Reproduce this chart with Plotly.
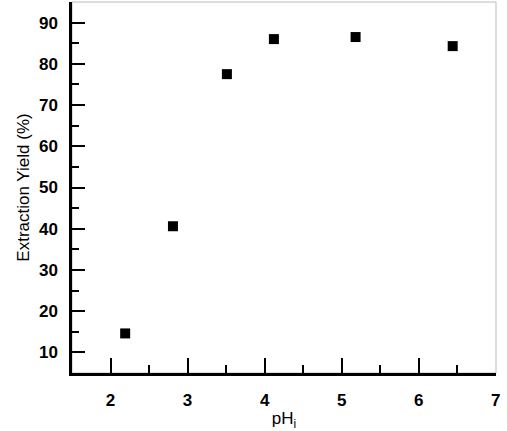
import plotly.graph_objects as go

ph_i = [2.19, 2.81, 3.51, 4.12, 5.18, 6.44]
extraction_yield = [14.6, 40.6, 77.5, 86.0, 86.5, 84.3]

x_ticks = [2, 3, 4, 5, 6, 7]
y_ticks = [10, 20, 30, 40, 50, 60, 70, 80, 90]

fig = go.Figure()
fig.add_trace(go.Scatter(
    x=ph_i,
    y=extraction_yield,
    mode="markers",
    marker=dict(symbol="square", size=10, color="black"),
    showlegend=False,
))

axis_font = dict(family="Liberation Sans, Arial, sans-serif", size=17, color="black")
tick_font = dict(family="Liberation Sans, Arial, sans-serif", size=17, color="black", weight="bold")

fig.update_layout(
    width=507,
    height=431,
    margin=dict(l=72, r=11, t=2, b=58),
    paper_bgcolor="white",
    plot_bgcolor="white",
    shapes=[dict(type="rect", xref="paper", yref="paper", x0=0, y0=0, x1=1, y1=1,
                 line=dict(color="#bbbbbb", width=1), layer="below")],
)
fig.update_xaxes(
    range=[1.5, 7.002],
    tickvals=x_ticks,
    ticks="inside",
    ticklen=15,
    tickwidth=2,
    tickcolor="black",
    minor=dict(ticks="inside", ticklen=8, tickwidth=2, tickcolor="black", dtick=0.5, tick0=1.5),
    showline=True,
    linewidth=2.5,
    linecolor="black",
    showgrid=False,
    zeroline=False,
    automargin=False,
    tickfont=tick_font,
    ticklabelstandoff=10,
    title=dict(text="pH<sub>i</sub>", font=axis_font, standoff=7),
)
fig.update_yaxes(
    range=[5, 95],
    tickvals=y_ticks,
    ticks="inside",
    ticklen=13,
    tickwidth=2,
    tickcolor="black",
    minor=dict(ticks="inside", ticklen=7, tickwidth=2, tickcolor="black", dtick=5, tick0=5),
    showline=True,
    linewidth=2.5,
    linecolor="black",
    showgrid=False,
    zeroline=False,
    automargin=False,
    tickfont=tick_font,
    ticklabelstandoff=8,
    title=dict(text="Extraction Yield (%)", font=axis_font, standoff=5),
)

# the page body has a default 8px margin; drop it so the figure sits at the corner
fig.write_html(
    "out.html",
    config={"displayModeBar": False},
    post_script="document.body.style.margin = '0';",
)
